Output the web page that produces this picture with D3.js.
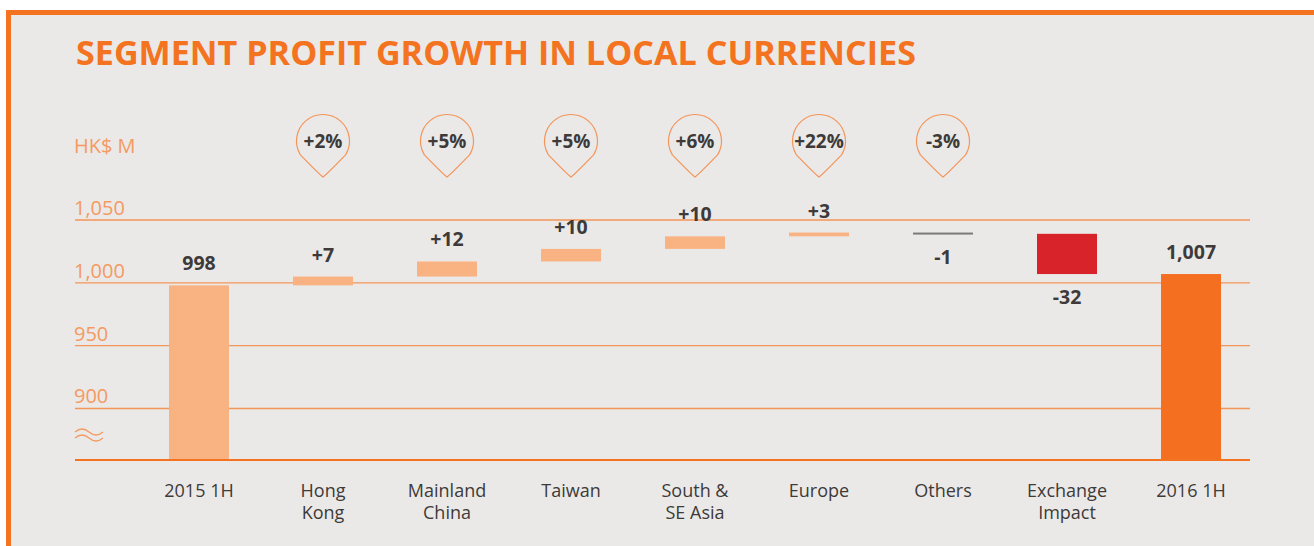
<!DOCTYPE html>
<html>
<head>
<meta charset="utf-8">
<script src="https://cdn.jsdelivr.net/npm/d3@7"></script>
<style>
  html, body { margin: 0; padding: 0; background: #fff; }
  svg { display: block; font-family: "Open Sans", sans-serif; }
</style>
</head>
<body>
<svg id="chart" width="1314" height="546"></svg>
<script>
// waterfall data (HK$ M)
const categories = ["2015 1H", "Hong Kong", "Mainland China", "Taiwan", "South & SE Asia", "Europe", "Others", "Exchange Impact", "2016 1H"];
const labelLines = [["2015 1H"], ["Hong", "Kong"], ["Mainland", "China"], ["Taiwan"], ["South &", "SE Asia"], ["Europe"], ["Others"], ["Exchange", "Impact"], ["2016 1H"]];
const changes = [998, 7, 12, 10, 10, 3, -1, -32, 1007];
const kinds = ["total", "up", "up", "up", "up", "up", "flat", "fx", "total2"];
const growth = [null, "+2%", "+5%", "+5%", "+6%", "+22%", "-3%", null, null];
const yTicks = [900, 950, 1000, 1050];

const colors = { total: "#f9b383", up: "#f9b383", flat: "#7d7879", fx: "#d9232a", total2: "#f47020" };
const orange = "#f47320";
const textDark = "#3d3a39";

const svg = d3.select("#chart");

// frame
svg.append("rect").attr("x", 6).attr("y", 10).attr("width", 1314).attr("height", 546).attr("fill", orange);
svg.append("rect").attr("x", 11).attr("y", 15).attr("width", 1314).attr("height", 546).attr("fill", "#ebe9e7");

svg.append("text")
    .attr("x", 76).attr("y", 65)
    .attr("textLength", 840).attr("lengthAdjust", "spacingAndGlyphs")
    .style("font-size", "34px").style("font-weight", 700).style("fill", orange)
    .text("SEGMENT PROFIT GROWTH IN LOCAL CURRENCIES");

// scales (axis broken below 900)
const x = d3.scalePoint().domain(categories).range([199, 1191]);
const y = d3.scaleLinear().domain([859, 1050]).range([460, 220]);
const barW = 60;

// build waterfall segments
let running = 0;
const bars = categories.map((c, i) => {
    let y0, y1;
    if (kinds[i] === "total" || kinds[i] === "total2") {
        y0 = 859; y1 = changes[i]; running = changes[i];
    } else {
        y0 = running; y1 = running + changes[i]; running = y1;
    }
    return { cat: c, v: changes[i], kind: kinds[i], lo: Math.min(y0, y1), hi: Math.max(y0, y1) };
});

// gridlines
svg.append("g").selectAll("line").data(yTicks).join("line")
    .attr("x1", 75).attr("x2", 1250)
    .attr("y1", d => y(d)).attr("y2", d => y(d))
    .attr("stroke", "#f4955a").attr("stroke-width", 1.3);

svg.append("g").selectAll("text").data(yTicks).join("text")
    .attr("x", 74).attr("y", d => y(d) - 5)
    .style("font-size", "20px").style("fill", "#f49a62")
    .text(d3.format(","));

svg.append("text").attr("x", 74).attr("y", 153)
    .style("font-size", "20px").style("fill", "#f49a62").text("HK$ M");

// break marks
[0, 6].forEach(off => {
    svg.append("path")
        .attr("d", "M75," + (432 + off) + " q7,-6 14,0 q7,6 14,0")
        .attr("fill", "none").attr("stroke", "#f49a62").attr("stroke-width", 1.3);
});

// bars
svg.append("g").selectAll("rect").data(bars).join("rect")
    .attr("x", d => x(d.cat) - barW / 2)
    .attr("width", barW)
    .attr("y", d => y(d.hi))
    .attr("height", d => Math.max(2, y(d.lo) - y(d.hi)))
    .attr("fill", d => colors[d.kind]);

// bottom axis line
svg.append("line").attr("x1", 75).attr("x2", 1250).attr("y1", 460).attr("y2", 460)
    .attr("stroke", orange).attr("stroke-width", 2);

// value labels
svg.append("g").selectAll("text").data(bars).join("text")
    .attr("x", d => x(d.cat))
    .attr("y", d => d.v < 0 ? y(d.lo) + 30 : y(d.hi) - 15)
    .attr("text-anchor", "middle")
    .style("font-size", "19.5px").style("font-weight", 700).style("fill", textDark)
    .text(d => (d.kind === "total" || d.kind === "total2") ? d3.format(",")(d.v) : (d.v > 0 ? "+" + d.v : String(d.v)));

// category labels
const xl = svg.append("g").selectAll("text").data(categories).join("text")
    .attr("x", d => x(d)).attr("y", 497)
    .attr("text-anchor", "middle")
    .style("font-size", "18px").style("fill", textDark);
xl.selectAll("tspan").data((d, i) => labelLines[i]).join("tspan")
    .attr("x", function () { return d3.select(this.parentNode).attr("x"); })
    .attr("dy", (d, i) => i === 0 ? 0 : 22)
    .text(d => d);

// growth pins
const r = 26.5, tip = 36;
const a = 0.55;
const px = r * Math.cos(a), py = r * Math.sin(a);
const pinPath = `M${-px},${py} A${r},${r} 0 1 1 ${px},${py} C${px * 0.7},${py + 7} 4,${tip - 3} 0,${tip} C-4,${tip - 3} ${-px * 0.7},${py + 7} ${-px},${py}Z`;
const pins = svg.append("g").selectAll("g").data(categories.filter((c, i) => growth[i])).join("g")
    .attr("transform", d => `translate(${x(d)},141)`);
pins.append("path").attr("d", pinPath).attr("fill", "none").attr("stroke", "#f4955a").attr("stroke-width", 1.2);
pins.append("text").attr("y", 7).attr("text-anchor", "middle")
    .style("font-size", "19px").style("font-weight", 700).style("fill", textDark)
    .text(d => growth[categories.indexOf(d)]);
</script>
</body>
</html>
